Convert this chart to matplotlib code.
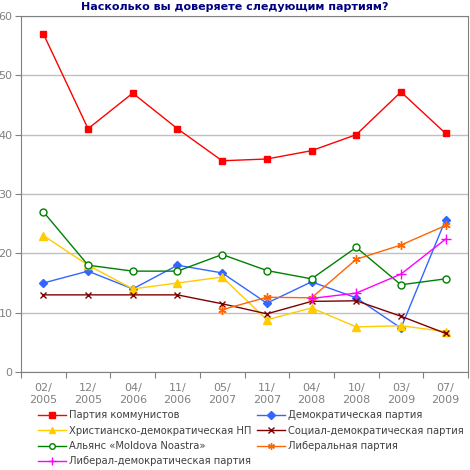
import matplotlib.pyplot as plt
import numpy as np

dates = ["02/\n2005", "12/\n2005", "04/\n2006", "11/\n2006", "05/\n2007",
         "11/\n2007", "04/\n2008", "10/\n2008", "03/\n2009", "07/\n2009"]

pcrm = [57, 41, 47, 41, 35.6, 35.9, 37.3, 40, 47.2, 40.2]
pd_ = [15, 17, 14, 18, 16.7, 11.6, 15.2, 12.5, 7.4, 25.7]
ppcd = [23, 18, 14, 15, 16, 8.8, 10.8, 7.6, 7.8, 6.8]
psd = [13, 13, 13, 13, 11.5, 9.8, 11.9, 12, 9.4, 6.5]
amn = [27, 18, 17, 17, 19.8, 17.1, 15.7, 21, 14.7, 15.7]
pl = [None, None, None, None, 10.5, 12.6, 12.5, 19, 21.4, 24.7]
pldm = [None, None, None, None, None, None, 12.4, 13.3, 16.5, 22.4]

names = ["Партия коммунистов", "Демократическая партия",
         "Христианско-демократическая НП", "Социал-демократическая партия",
         "Альянс «Moldova Noastra»", "Либеральная партия",
         "Либерал-демократическая партия"]

fig = plt.figure(figsize=(4.7, 4.7), dpi=100)
ax = fig.add_axes([21 / 470, 1 - 372 / 470, 447 / 470, 356 / 470])

x = np.arange(len(dates))


def arr(v):
    return np.array([np.nan if a is None else a for a in v], dtype=float)


lines = {}
lines[0] = ax.plot(x, arr(pcrm), color="#FF0000", lw=1, marker="s", ms=5)[0]
lines[1] = ax.plot(x, arr(pd_), color="#3366FF", lw=1, marker="D", ms=4.5)[0]
lines[2] = ax.plot(x, arr(ppcd), color="#FFCC00", lw=1, marker="^", ms=6)[0]
lines[3] = ax.plot(x, arr(psd), color="#800000", lw=1, marker="x", ms=5, mew=1)[0]
lines[4] = ax.plot(x, arr(amn), color="#008000", lw=1, marker="o", ms=5,
                   mfc="white", mew=1)[0]
lines[5] = ax.plot(x, arr(pl), color="#FF6600", lw=1, marker=(6, 2, 0), ms=6, mew=1)[0]
lines[6] = ax.plot(x, arr(pldm), color="#FF00FF", lw=1, marker="+", ms=7, mew=1)[0]

ax.set_xlim(-0.5, len(dates) - 0.5)
ax.set_ylim(0, 60)
ax.set_yticks(range(0, 61, 10))
ax.set_xticks(np.arange(-0.5, len(dates), 1))
ax.set_xticklabels([])
ax.set_xticks(x, minor=True)
ax.set_xticklabels(dates, minor=True)
ax.tick_params(axis="x", which="minor", length=0, pad=8, labelsize=8, colors="#808080")
ax.tick_params(axis="x", which="major", length=4, color="#808080")
ax.tick_params(axis="y", length=4, labelsize=8, colors="#808080", pad=2)
ax.yaxis.grid(True, color="#C0C0C0", lw=1)
ax.set_axisbelow(True)
for s in ax.spines.values():
    s.set_color("#808080")

fig.text(0.5, 1 - 7 / 470, "Насколько вы доверяете следующим партиям?",
         ha="center", va="center", fontsize=8, fontweight="bold", color="#000080")

order = [0, 2, 4, 6, 1, 3, 5]
leg = fig.legend([lines[i] for i in order], [names[i] for i in order],
                 loc="upper left", bbox_to_anchor=(38 / 470, 1 - 410 / 470),
                 ncol=2, frameon=False, fontsize=7.2, handlelength=2.8,
                 handletextpad=0.3, columnspacing=0.6, labelspacing=0.55,
                 borderaxespad=0, borderpad=0, markerscale=0.8)
for t in leg.get_texts():
    t.set_color("#404040")

fig.savefig("out.png", dpi=100)
